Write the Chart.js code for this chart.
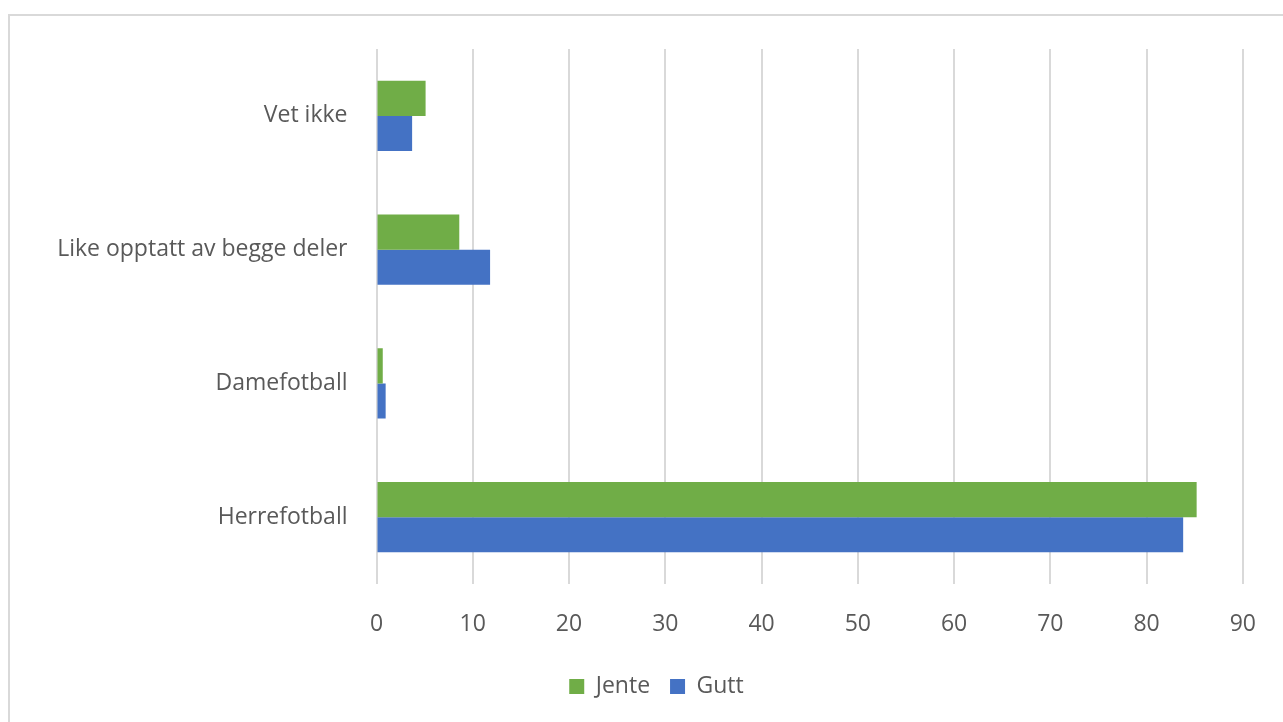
<!DOCTYPE html>
<html>
<head>
<meta charset="utf-8">
<script src="https://cdn.jsdelivr.net/npm/chart.js@4.4.1/dist/chart.umd.min.js"></script>
<style>
  html, body { margin: 0; padding: 0; background: #fff; width: 1283px; height: 722px; overflow: hidden; }
  #frame { position: absolute; left: 8px; top: 14px; width: 1300px; height: 730px; border-left: 2px solid #d9d9d9; border-top: 2px solid #d9d9d9; box-sizing: border-box; }
  #wrap { position: absolute; left: 0; top: 0; width: 1283px; height: 722px; }
</style>
</head>
<body>
<div id="frame"></div>
<div id="wrap"><canvas id="c" width="1283" height="722"></canvas></div>
<script>
const categories = ["Vet ikke", "Like opptatt av begge deler", "Damefotball", "Herrefotball"];
const jente = [5.1, 8.6, 0.65, 85.2];
const gutt = [3.7, 11.8, 0.95, 83.8];
const xTicks = [0, 10, 20, 30, 40, 50, 60, 70, 80, 90];

const textColor = "#595959";
const fontFamily = "'Open Sans', 'Liberation Sans', sans-serif";

const legendShift = {
  id: "legendShift",
  afterLayout(chart) {
    if (chart.legend) {
      chart.legend.left += 34;
      chart.legend.right += 34;
    }
  }
};

new Chart(document.getElementById("c"), {
  type: "bar",
  data: {
    labels: categories,
    datasets: [
      { label: "Jente", data: jente, backgroundColor: "#70AD47", borderWidth: 0, barPercentage: 1, categoryPercentage: 0.525 },
      { label: "Gutt", data: gutt, backgroundColor: "#4472C4", borderWidth: 0, barPercentage: 1, categoryPercentage: 0.525 }
    ]
  },
  options: {
    indexAxis: "y",
    responsive: false,
    animation: false,
    layout: { padding: { left: 0, right: 38, top: 49, bottom: 14 } },
    scales: {
      x: {
        min: 0, max: 90,
        afterBuildTicks: (axis) => { axis.ticks = xTicks.map(v => ({ value: v })); },
        grid: { color: "#d9d9d9", lineWidth: 2, drawTicks: false },
        border: { display: false },
        ticks: { color: textColor, font: { family: fontFamily, size: 23 }, padding: 27 },
        afterFit: (axis) => { axis.height = 71; }
      },
      y: {
        grid: { display: false, drawTicks: false },
        border: { display: false },
        ticks: { color: textColor, font: { family: fontFamily, size: 23 }, padding: 29 },
        afterFit: (axis) => { axis.width = 376.5; }
      }
    },
    plugins: {
      legend: {
        position: "bottom",
        labels: { color: textColor, font: { family: fontFamily, size: 23 }, boxWidth: 15, boxHeight: 15, padding: 20, useBorderRadius: false }
      },
      tooltip: { enabled: false }
    }
  },
  plugins: [legendShift]
});
</script>
</body>
</html>
